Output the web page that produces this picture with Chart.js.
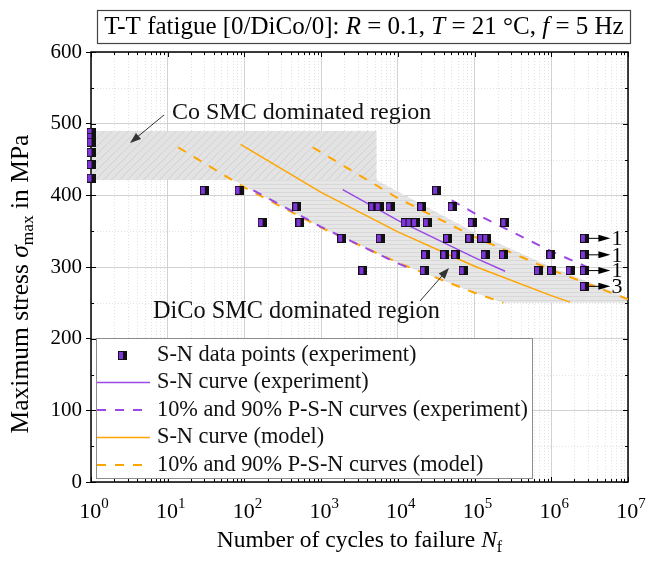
<!DOCTYPE html>
<html>
<head>
<meta charset="utf-8">
<script src="https://cdn.jsdelivr.net/npm/chart.js@4.4.1/dist/chart.umd.min.js"></script>
<style>
  html, body { margin: 0; padding: 0; background: #fff; }
  #wrap { width: 646px; height: 562px; }
</style>
</head>
<body>
<div id="wrap"><canvas id="snChart" width="646" height="562"></canvas></div>
<script>
// ---- data ----
// experiment: cycles to failure and max stress (MPa)
const expN = [1, 1, 1, 1, 1, 1,
  30, 85, 32000,
  480, 4700, 5700, 7900, 20500, 51000,
  170, 530, 12400, 14400, 17000, 24200, 93000, 248000,
  1850, 5900, 44500, 87000, 124000, 144000,
  23000, 41000, 57000, 137000, 238000, 990000,
  3500, 22000, 71000, 680000, 1010000, 1760000];
const expS = [488, 481, 474, 460, 443, 424,
  407, 407, 407,
  384, 384, 384, 384, 384, 384,
  362, 362, 362, 362, 362, 362, 362, 362,
  340, 340, 340, 340, 340, 340,
  317, 317, 317, 317, 317, 317,
  295, 295, 295, 295, 295, 295];

// run-outs (no failure) and how many specimens each stands for
const runoutN = [2700000, 2700000, 2700000, 2700000];
const runoutS = [340, 317, 295, 273];
const runoutCount = ['1', '1', '1', '3'];

// S-N and P-S-N curves
const snExpN = [1910, 10000, 100000, 250000];
const snExpS = [408, 365, 313, 294];
const psnExp10N = [131, 1000, 10000, 15900];
const psnExp10S = [407, 356, 305, 296];
const psnExp90N = [50400, 100000, 1000000, 3540000];
const psnExp90S = [393, 375, 322, 296];

const snModN = [89, 1000, 10000, 100000, 1000000, 1760000];
const snModS = [471, 404, 349, 301, 260, 251];
const psnMod10N = [13.7, 100, 1000, 10000, 100000, 238000];
const psnMod10S = [467, 411, 355, 306, 264, 250];
const psnMod90N = [777, 1000, 10000, 100000, 1000000, 10000000];
const psnMod90S = [467, 460, 396, 342, 296, 255];

// shaded regions
const coRegionN = [1, 5300];
const coRegionS = [421, 490];
const dicoUpperN = [72, 5300, 100000, 1000000, 10000000];
const dicoUpperS = [421, 421, 348, 300, 257];
const dicoLowerN = [72, 1000, 10000, 100000, 238000, 10000000];
const dicoLowerS = [421, 355, 306, 264, 250, 250];

const xDecades = [1, 10, 100, 1e3, 1e4, 1e5, 1e6, 1e7];
const xExponents = ['0', '1', '2', '3', '4', '5', '6', '7'];

const PURPLE = '#9a48e6';
const ORANGE = '#ffa500';
const SERIF = '"Liberation Serif", "Times New Roman", serif';

const pts = (xs, ys) => xs.map((x, i) => ({ x: x, y: ys[i] }));

// half purple / half black square marker
const marker = document.createElement('canvas');
marker.width = 9; marker.height = 9;
(() => {
    const m = marker.getContext('2d');
    m.fillStyle = '#111';
    m.fillRect(0, 0, 9, 9);
    m.fillStyle = '#7f34dc';
    m.fillRect(1, 1, 4, 7);
})();

// draws a list of [text, style] pieces; style: '' | 'i' | 'sub' | 'sup'
function richText(ctx, parts, x, y, size, align) {
    const fontFor = (st) => {
        const s = (st === 'sub' || st === 'sup') ? size * 0.68 : size;
        return (st === 'i' ? 'italic ' : '') + s + 'px ' + SERIF;
    };
    let total = 0;
    parts.forEach(p => { ctx.font = fontFor(p[1]); total += ctx.measureText(p[0]).width; });
    let cx = align === 'center' ? x - total / 2 : (align === 'right' ? x - total : x);
    ctx.textBaseline = 'middle';
    ctx.textAlign = 'left';
    parts.forEach(p => {
        ctx.font = fontFor(p[1]);
        let dy = 0;
        if (p[1] === 'sub') dy = size * 0.3;
        if (p[1] === 'sup') dy = -size * 0.38;
        ctx.fillText(p[0], cx, y + dy);
        cx += ctx.measureText(p[0]).width;
    });
    return total;
}

function arrow(ctx, x1, y1, x2, y2, len, half, color, width) {
    const a = Math.atan2(y2 - y1, x2 - x1);
    ctx.save();
    ctx.strokeStyle = color; ctx.fillStyle = color; ctx.lineWidth = width;
    ctx.beginPath();
    ctx.moveTo(x1, y1);
    ctx.lineTo(x2 - Math.cos(a) * len * 0.8, y2 - Math.sin(a) * len * 0.8);
    ctx.stroke();
    ctx.beginPath();
    ctx.moveTo(x2, y2);
    ctx.lineTo(x2 - Math.cos(a) * len - Math.sin(a) * half, y2 - Math.sin(a) * len + Math.cos(a) * half);
    ctx.lineTo(x2 - Math.cos(a) * len + Math.sin(a) * half, y2 - Math.sin(a) * len - Math.cos(a) * half);
    ctx.closePath();
    ctx.fill();
    ctx.restore();
}

// minor grid, shaded regions and the frame, under the curves
const backgroundPlugin = {
    id: 'background',
    beforeDatasetsDraw(chart) {
        const { ctx, chartArea: ca, scales: { x, y } } = chart;
        ctx.save();
        ctx.beginPath(); ctx.rect(ca.left, ca.top, ca.right - ca.left, ca.bottom - ca.top); ctx.clip();

        // dotted minor grid
        ctx.strokeStyle = '#e2e2e2'; ctx.lineWidth = 1; ctx.setLineDash([1, 2]);
        for (let d = 1; d < 1e7; d *= 10) {
            for (let k = 2; k <= 9; k++) {
                const px = Math.round(x.getPixelForValue(d * k)) + 0.5;
                ctx.beginPath(); ctx.moveTo(px, ca.top); ctx.lineTo(px, ca.bottom); ctx.stroke();
            }
        }
        for (let s = 50; s < 600; s += 100) {
            const py = Math.round(y.getPixelForValue(s)) + 0.5;
            ctx.beginPath(); ctx.moveTo(ca.left, py); ctx.lineTo(ca.right, py); ctx.stroke();
        }
        ctx.setLineDash([]);

        // Co SMC region: diagonal hatch
        const cx0 = x.getPixelForValue(coRegionN[0]), cx1 = x.getPixelForValue(coRegionN[1]);
        const cy0 = y.getPixelForValue(coRegionS[1]), cy1 = y.getPixelForValue(coRegionS[0]);
        ctx.save();
        ctx.beginPath(); ctx.rect(cx0, cy0, cx1 - cx0, cy1 - cy0); ctx.clip();
        ctx.fillStyle = '#e3e3e3'; ctx.fillRect(cx0, cy0, cx1 - cx0, cy1 - cy0);
        ctx.strokeStyle = '#cfcfcf'; ctx.lineWidth = 1;
        for (let t = cx0 - 100; t < cx1 + 100; t += 8) {
            ctx.beginPath(); ctx.moveTo(t, cy1); ctx.lineTo(t + (cy1 - cy0), cy0); ctx.stroke();
        }
        ctx.restore();

        // DiCo SMC region: horizontal hatch
        ctx.save();
        ctx.beginPath();
        dicoUpperN.forEach((n, i) => {
            const px = x.getPixelForValue(n), py = y.getPixelForValue(dicoUpperS[i]);
            i === 0 ? ctx.moveTo(px, py) : ctx.lineTo(px, py);
        });
        for (let i = dicoLowerN.length - 1; i >= 0; i--) {
            ctx.lineTo(x.getPixelForValue(dicoLowerN[i]), y.getPixelForValue(dicoLowerS[i]));
        }
        ctx.closePath();
        ctx.fillStyle = '#e6e6e6'; ctx.fill();
        ctx.clip();
        ctx.strokeStyle = '#d8d8d8'; ctx.lineWidth = 1;
        for (let py = Math.round(ca.top) + 0.5; py < ca.bottom; py += 4) {
            ctx.beginPath(); ctx.moveTo(ca.left, py); ctx.lineTo(ca.right, py); ctx.stroke();
        }
        ctx.restore();

        ctx.restore();

        // frame
        ctx.save();
        ctx.strokeStyle = '#000'; ctx.lineWidth = 1.5;
        ctx.strokeRect(ca.left, ca.top, ca.right - ca.left, ca.bottom - ca.top);

        // inward ticks on all four sides
        ctx.lineWidth = 1;
        for (let d = 1; d <= 1e7; d *= 10) {
            for (let k = 1; k <= 9; k++) {
                if (d * k > 1e7) break;
                const px = Math.round(x.getPixelForValue(d * k)) + 0.5;
                const len = k === 1 ? 5 : 3;
                ctx.beginPath();
                ctx.moveTo(px, ca.bottom); ctx.lineTo(px, ca.bottom - len);
                ctx.moveTo(px, ca.top); ctx.lineTo(px, ca.top + len);
                ctx.stroke();
            }
        }
        for (let s = 0; s <= 600; s += 50) {
            const py = Math.round(y.getPixelForValue(s)) + 0.5;
            const len = s % 100 === 0 ? 5 : 3;
            ctx.beginPath();
            ctx.moveTo(ca.left, py); ctx.lineTo(ca.left + len, py);
            ctx.moveTo(ca.right, py); ctx.lineTo(ca.right - len, py);
            ctx.stroke();
        }
        ctx.restore();
    }
};

// labels, annotations, legend, title box
const overlayPlugin = {
    id: 'overlay',
    afterDraw(chart) {
        const { ctx, chartArea: ca, scales: { x, y } } = chart;
        ctx.save();

        // annotations
        ctx.fillStyle = '#111';
        richText(ctx, [['Co SMC dominated region', '']], 172, 113, 24, 'left');
        arrow(ctx, 164, 115, 130, 143, 11, 4, '#333', 1);
        richText(ctx, [['DiCo SMC dominated region', '']], 153, 312, 24.3, 'left');
        arrow(ctx, 420, 301, 449, 268, 11, 4, '#333', 1);

        // run-out arrows
        runoutN.forEach((n, i) => {
            const px = x.getPixelForValue(n), py = y.getPixelForValue(runoutS[i]);
            arrow(ctx, px + 4, py, px + 26, py, 12, 3.5, '#000', 1);
            ctx.fillStyle = '#000';
            richText(ctx, [[runoutCount[i], '']], px + 27, py + 1, 22, 'left');
        });

        // legend
        const lx = 96, ly = 338, lw = 436, lh = 140;
        ctx.fillStyle = '#fff'; ctx.fillRect(lx, ly, lw, lh);
        ctx.strokeStyle = '#8c8c8c'; ctx.lineWidth = 1;
        ctx.strokeRect(lx + 0.5, ly + 0.5, lw, lh);
        chart.data.datasets.forEach((ds, i) => {
            const ey = 355 + i * 27.5;
            if (ds.pointStyle === marker) {
                ctx.drawImage(marker, 118, Math.round(ey - 4.5));
            } else {
                ctx.strokeStyle = ds.borderColor; ctx.lineWidth = ds.borderWidth;
                ctx.setLineDash(ds.borderDash || []);
                ctx.beginPath(); ctx.moveTo(97, ey); ctx.lineTo(150, ey); ctx.stroke();
                ctx.setLineDash([]);
            }
            ctx.fillStyle = '#111';
            richText(ctx, [[ds.label, '']], 157, ey, 22.3, 'left');
        });

        // x tick labels 10^n
        ctx.fillStyle = '#000';
        xDecades.forEach((v, i) => {
            const px = x.getPixelForValue(v);
            richText(ctx, [['10', ''], [xExponents[i], 'sup']], px + 3, 512, 22, 'center');
        });

        // axis titles
        richText(ctx, [['Number of cycles to failure ', ''], ['N', 'i'], ['f', 'sub']],
            (ca.left + ca.right) / 2, 541, 23.5, 'center');
        ctx.save();
        ctx.translate(21, 284);
        ctx.rotate(-Math.PI / 2);
        richText(ctx, [['Maximum stress ', ''], ['\u03c3', 'i'], ['max', 'sub'], [' in MPa', '']], 0, 0, 25.5, 'center');
        ctx.restore();

        // title box
        ctx.fillStyle = '#fff'; ctx.fillRect(97, 10, 533, 33);
        ctx.strokeStyle = '#444'; ctx.lineWidth = 1.2;
        ctx.strokeRect(97.5, 10.5, 533, 33);
        ctx.fillStyle = '#000';
        richText(ctx, [
            ['T-T fatigue [0/DiCo/0]: ', ''], ['R', 'i'], [' = 0.1, ', ''], ['T', 'i'],
            [' = 21 \u00b0C, ', ''], ['f', 'i'], [' = 5 Hz', '']
        ], 364, 27, 25, 'center');

        ctx.restore();
    }
};

const ctx = document.getElementById('snChart').getContext('2d');
const chart = new Chart(ctx, {
    type: 'scatter',
    data: {
        datasets: [
            {
                label: 'S-N data points (experiment)',
                data: pts(expN.concat(runoutN), expS.concat(runoutS)),
                pointStyle: marker, pointRadius: 5, clip: false, order: 0
            },
            {
                label: 'S-N curve (experiment)', data: pts(snExpN, snExpS), showLine: true,
                borderColor: PURPLE, borderWidth: 1.5, pointRadius: 0, order: 1
            },
            {
                label: '10% and 90% P-S-N curves (experiment)',
                data: pts(psnExp10N, psnExp10S).concat([{ x: NaN, y: NaN }], pts(psnExp90N, psnExp90S)),
                showLine: true, spanGaps: false,
                borderColor: PURPLE, borderWidth: 2, borderDash: [9, 9], pointRadius: 0, order: 2
            },
            {
                label: 'S-N curve (model)', data: pts(snModN, snModS), showLine: true,
                borderColor: ORANGE, borderWidth: 1.5, pointRadius: 0, order: 3
            },
            {
                label: '10% and 90% P-S-N curves (model)',
                data: pts(psnMod10N, psnMod10S).concat([{ x: NaN, y: NaN }], pts(psnMod90N, psnMod90S)),
                showLine: true, spanGaps: false,
                borderColor: ORANGE, borderWidth: 2, borderDash: [9, 9], pointRadius: 0, order: 4
            }
        ]
    },
    options: {
        responsive: false,
        animation: false,
        layout: { padding: { top: 52, right: 18, left: 0, bottom: 0 } },
        plugins: { legend: { display: false }, tooltip: { enabled: false } },
        scales: {
            x: {
                type: 'logarithmic', min: 1, max: 1e7,
                afterBuildTicks: (s) => { s.ticks = xDecades.map(v => ({ value: v })); },
                afterFit: (s) => { s.height = 80; },
                ticks: { display: false },
                grid: { color: '#d2d2d2', drawTicks: false },
                border: { display: false }
            },
            y: {
                min: 0, max: 600,
                afterFit: (s) => { s.width = 91; },
                ticks: { stepSize: 100, color: '#000', padding: 4, font: { family: SERIF, size: 21 } },
                grid: { color: '#d2d2d2', tickColor: '#000', tickLength: 5 },
                border: { display: false }
            }
        }
    },
    plugins: [backgroundPlugin, overlayPlugin]
});
</script>
</body>
</html>
